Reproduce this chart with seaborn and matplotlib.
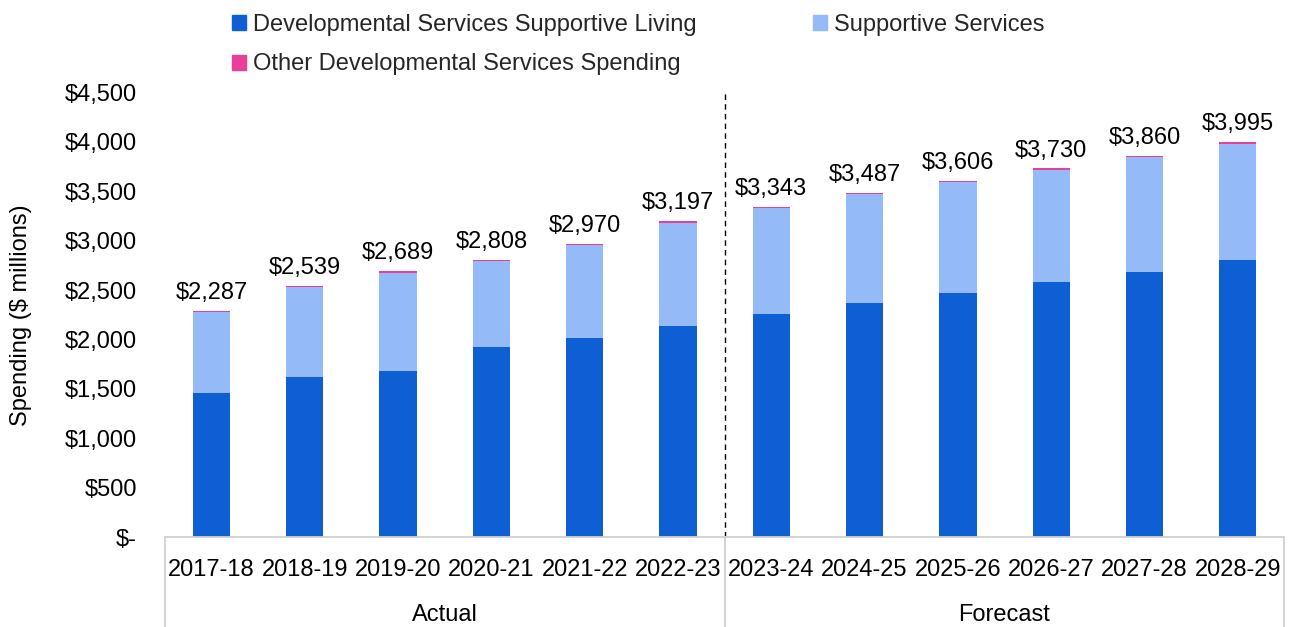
import matplotlib
matplotlib.use("Agg")
import matplotlib.pyplot as plt
from matplotlib.ticker import FuncFormatter
from matplotlib.patches import Patch
import numpy as np
import pandas as pd
import seaborn as sns

# Fiscal years and their grouping
years = ["2017-18", "2018-19", "2019-20", "2020-21", "2021-22", "2022-23",
         "2023-24", "2024-25", "2025-26", "2026-27", "2027-28", "2028-29"]
groups = ["Actual", "Forecast"]
group_sizes = [6, 6]

# Spending by component ($ millions)
supportive_living = [1460, 1622, 1680, 1926, 2014, 2139,
                     2260, 2371, 2473, 2578, 2685, 2800]
supportive_services = [822, 909, 994, 870, 942, 1044,
                       1071, 1103, 1120, 1140, 1162, 1181]
other_spending = [5, 8, 15, 12, 14, 14,
                  12, 13, 13, 12, 13, 14]

series_names = ["Developmental Services Supportive Living",
                "Supportive Services",
                "Other Developmental Services Spending"]
colors = ["#0F5FD4", "#94BBF7", "#E8409A"]

sns.set_theme(style="white")
plt.rcParams["font.family"] = ["Liberation Sans", "DejaVu Sans"]
FS = 17

df = pd.DataFrame({
    "year": years,
    "dssl": supportive_living,
    "ss": supportive_services,
    "other": other_spending,
})
df["lvl1"] = df["dssl"]
df["lvl2"] = df["dssl"] + df["ss"]
df["lvl3"] = df["lvl2"] + df["other"]

fig = plt.figure(figsize=(12.91, 6.27), dpi=100)
ax = fig.add_axes([0.1277, 0.1435, 0.8672, 0.7091])

# Stacked bars: draw cumulative layers from the top down
for col, color in [("lvl3", colors[2]), ("lvl2", colors[1]), ("lvl1", colors[0])]:
    sns.barplot(data=df, x="year", y=col, color=color, width=0.4,
                saturation=1, errorbar=None, ax=ax, order=years,
                linewidth=0)

# Total labels above each bar
for i, total in enumerate(df["lvl3"]):
    ax.annotate(f"${total:,.0f}", (i, total), xytext=(0, 5),
                textcoords="offset points", ha="center", va="bottom",
                fontsize=FS, color="black")

ax.set_xlim(-0.5, len(years) - 0.5)
ax.set_ylim(0, 4500)
ax.set_yticks(np.arange(0, 4501, 500))
ax.yaxis.set_major_formatter(FuncFormatter(
    lambda v, p: "$-" if v == 0 else f"${v:,.0f}"))
ax.tick_params(axis="y", length=0, pad=20, labelsize=FS, labelcolor="black")
ax.tick_params(axis="x", length=0, pad=16, labelsize=FS, labelcolor="black")
ax.set_xlabel("")
ax.set_ylabel("Spending ($ millions)", fontsize=FS, color="black", labelpad=24)
for s in ["top", "right", "left"]:
    ax.spines[s].set_visible(False)
ax.spines["bottom"].set_color("#D0D0D0")
ax.spines["bottom"].set_linewidth(1.3)

# Divider between actual and forecast years
split = group_sizes[0] - 0.5
ax.axvline(split, ymin=0, ymax=1, color="black", linestyle=(0, (4, 3)), linewidth=1)

# Category group box beneath the axis
trans = ax.get_xaxis_transform()
bounds = [-0.5, split, len(years) - 0.5]
for b in bounds:
    ax.plot([b, b], [0, -0.21], transform=trans, color="#D0D0D0",
            linewidth=1.3, clip_on=False)
starts = [-0.5, split]
for g, start, n in zip(groups, starts, group_sizes):
    ax.text(start + n / 2, -0.175, g, transform=trans, ha="center",
            va="center", fontsize=FS, color="black")

# Legend
handles = [Patch(color=colors[0], label=series_names[0]),
           Patch(color=colors[2], label=series_names[2]),
           Patch(color=colors[1], label=series_names[1])]
fig.legend(handles=handles, ncol=2, loc="upper left",
           bbox_to_anchor=(0.1634, 1.012), frameon=False, fontsize=FS,
           handlelength=0.6, handleheight=0.6, handletextpad=0.3,
           columnspacing=4.9, labelspacing=0.75)

fig.savefig("out.png", dpi=100)
